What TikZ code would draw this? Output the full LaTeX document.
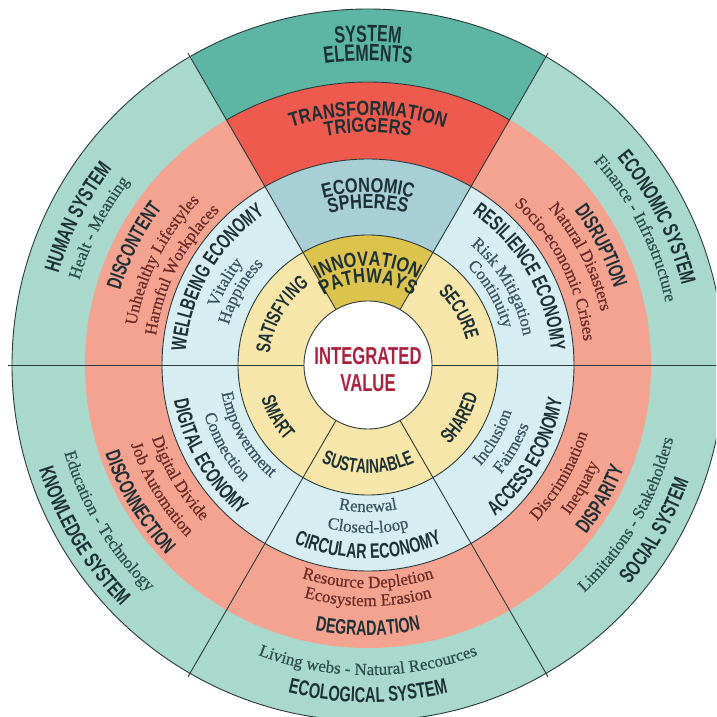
\documentclass[tikz,border=0pt]{standalone}
\usepackage{fontspec}
\usetikzlibrary{decorations.text}
\newfontfamily\hfa{Liberation Sans}[FakeStretch=0.68]
\newfontfamily\hfb{Liberation Sans}[FakeStretch=0.8]
\newfontfamily\hfc{Liberation Sans}[FakeStretch=0.68]
\newfontfamily\itf{Liberation Serif}[FakeBold=0.5]
\definecolor{tealL}{HTML}{A9D9CC}
\definecolor{tealD}{HTML}{5CB6A3}
\definecolor{salm}{HTML}{F5A391}
\definecolor{redT}{HTML}{EE5A4D}
\definecolor{blueL}{HTML}{D6EEF2}
\definecolor{blueG}{HTML}{A8CED6}
\definecolor{yel}{HTML}{F6E6A9}
\definecolor{gold}{HTML}{DCC34C}
\definecolor{hd}{HTML}{1C3036}
\definecolor{itT}{HTML}{2C4D4B}
\definecolor{itS}{HTML}{6A2A26}
\definecolor{itB}{HTML}{3A5460}
\definecolor{crim}{HTML}{AE1F3E}
\definecolor{ln}{HTML}{2A3A3C}
\newcommand\Hs{\hfa\bfseries\fontsize{23.5}{24}\selectfont\color{hd}}
\newcommand\Ht{\hfb\bfseries\fontsize{20.5}{21}\selectfont\color{hd}}
\newcommand\Hr{\hfa\bfseries\fontsize{21}{21}\selectfont\color{hd}}
\newcommand\Ho{\hfa\bfseries\fontsize{21.5}{22}\selectfont\color{hd}}
\newcommand\Hy{\hfa\bfseries\fontsize{20}{20}\selectfont\color{hd}}
\newcommand\It{\itf\fontsize{17}{17}\selectfont\color{itT}}
\newcommand\Is{\itf\fontsize{17}{17}\selectfont\color{itS}}
\newcommand\Ib{\itf\fontsize{17}{17}\selectfont\color{itB}}
\newcommand\cwt[4]{\pgfmathsetmacro\myS{#1+75}\pgfmathsetmacro\myE{#1-75}%
\path[decorate,decoration={text along path,text align=center,text={|#3|#4}}] (\myS:#2pt) arc[start angle=\myS,end angle=\myE,radius=#2pt];}
\newcommand\ccwt[4]{\pgfmathsetmacro\myS{#1-75}\pgfmathsetmacro\myE{#1+75}%
\path[decorate,decoration={text along path,text align=center,text={|#3|#4}}] (\myS:#2pt) arc[start angle=\myS,end angle=\myE,radius=#2pt];}
\begin{document}
\begin{tikzpicture}[lnst/.style={draw=ln,line width=0.9pt}]
\useasboundingbox (-368pt,-352pt) rectangle (348pt,365pt);
\fill[white] (-368pt,-352pt) rectangle (348pt,365pt);
\clip (-368pt,-352pt) rectangle (348pt,365pt);
% rings
\fill[tealL] (0,0) circle (356pt);
\fill[tealD] (0,0) -- (60:356pt) arc[start angle=60,end angle=120,radius=356pt] -- cycle;
\fill[salm] (0,0) circle (283pt);
\fill[redT] (0,0) -- (60:283pt) arc[start angle=60,end angle=120,radius=283pt] -- cycle;
\fill[blueL] (0,0) circle (206pt);
\fill[blueG] (0,0) -- (60:206pt) arc[start angle=60,end angle=120,radius=206pt] -- cycle;
\fill[yel] (0,0) circle (130pt);
\fill[gold] (0,0) -- (60:130pt) arc[start angle=60,end angle=120,radius=130pt] -- cycle;
\fill[white] (0,0) circle (64pt);
% lines
\draw[lnst] (0,0) circle (356pt);
\draw[lnst] (0,0) circle (206pt);
\draw[lnst] (0,0) circle (130pt);
\draw[lnst] (0,0) circle (64pt);
\draw[lnst] (60:283pt) arc[start angle=60,end angle=120,radius=283pt];
\foreach \a in {0,60,120,180,240,300} \draw[lnst] (\a:64pt) -- (\a:360pt);
% centre
\node[name=iv, align=center, text=crim, font=\hfc\bfseries\fontsize{24.5}{27}\selectfont, inner sep=0pt] at (0pt,-5pt) {INTEGRATED\\VALUE};
% top sector
\cwt{90}{323}{\Hs}{SYSTEM}
\cwt{90}{304}{\Hs}{ELEMENTS}
\cwt{90}{249.5}{\Ht}{TRANSFORMATION}
\cwt{90}{232.5}{\Ht}{TRIGGERS}
\cwt{90}{172.5}{\Ht}{ECONOMIC}
\cwt{90}{156.5}{\Ht}{SPHERES}
\cwt{90}{99}{\Ht}{INNOVATION}
\cwt{90}{82}{\Ht}{PATHWAYS}
% yellow ring
\cwt{150}{99}{\Hy}{SATISFYING}
\cwt{30}{101}{\Hy}{SECURE}
\ccwt{-30}{114}{\Hy}{SHARED}
\ccwt{210}{112}{\Hy}{SMART}
\ccwt{270}{108}{\Hy}{SUSTAINABLE}
% light blue ring
\cwt{150}{182.7}{\Hr}{WELLBEING ECONOMY}
\cwt{150}{161}{\Ib}{Vitality}
\cwt{150}{145}{\Ib}{Happiness}
\cwt{30}{183.7}{\Hr}{RESILIENCE ECONOMY}
\cwt{30}{158}{\Ib}{Risk Mitigation}
\cwt{30}{140}{\Ib}{Continuity}
\ccwt{210}{197.3}{\Hr}{DIGITAL ECONOMY}
\ccwt{210}{171}{\Ib}{Connection}
\ccwt{210}{149}{\Ib}{Empowerment}
\ccwt{-30}{197.3}{\Hr}{ACCESS ECONOMY}
\ccwt{-30}{172}{\Ib}{Fairness}
\ccwt{-30}{151}{\Ib}{Inclusion}
\ccwt{270}{193.3}{\Hr}{CIRCULAR ECONOMY}
\ccwt{270}{168}{\Ib}{Closed-loop}
\ccwt{270}{147}{\Ib}{Renewal}
% salmon ring
\cwt{153}{258.7}{\Hr}{DISCONTENT}
\cwt{153}{235}{\Is}{Unhealthy Lifestyles}
\cwt{153}{214}{\Is}{Harmful Workplaces}
\cwt{27}{257.7}{\Hr}{DISRUPTION}
\cwt{27}{239}{\Is}{Natural Disasters}
\cwt{27}{217}{\Is}{Socio-economic Crises}
\ccwt{211}{277.3}{\Hr}{DISCONNECTION}
\ccwt{211}{250}{\Is}{Job Automation}
\ccwt{211}{228}{\Is}{Digital Divide}
\ccwt{-30}{276.3}{\Hr}{DISPARITY}
\ccwt{-30}{251}{\Is}{Inequaty}
\ccwt{-30}{230}{\Is}{Discrimination}
\ccwt{270}{270.3}{\Hr}{DEGRADATION}
\ccwt{270}{241}{\Is}{Ecosystem Erasion}
\ccwt{270}{223}{\Is}{Resource Depletion}
% teal ring
\cwt{153}{322.7}{\Ho}{HUMAN SYSTEM}
\cwt{153}{301}{\It}{Healt - Meaning}
\cwt{27}{323.7}{\Ho}{ECONOMIC SYSTEM}
\cwt{27}{304}{\It}{Finance - Infrastructure}
\ccwt{211}{345.3}{\Ho}{KNOWLEDGE SYSTEM}
\ccwt{211}{316}{\It}{Education - Technology}
\ccwt{-30}{341.3}{\Ho}{SOCIAL SYSTEM}
\ccwt{-30}{314}{\It}{Limitations - Stakeholders}
\ccwt{270}{337.3}{\Ho}{ECOLOGICAL SYSTEM}
\ccwt{270}{310}{\It}{Living webs - Natural Recources}
\end{tikzpicture}
\end{document}
